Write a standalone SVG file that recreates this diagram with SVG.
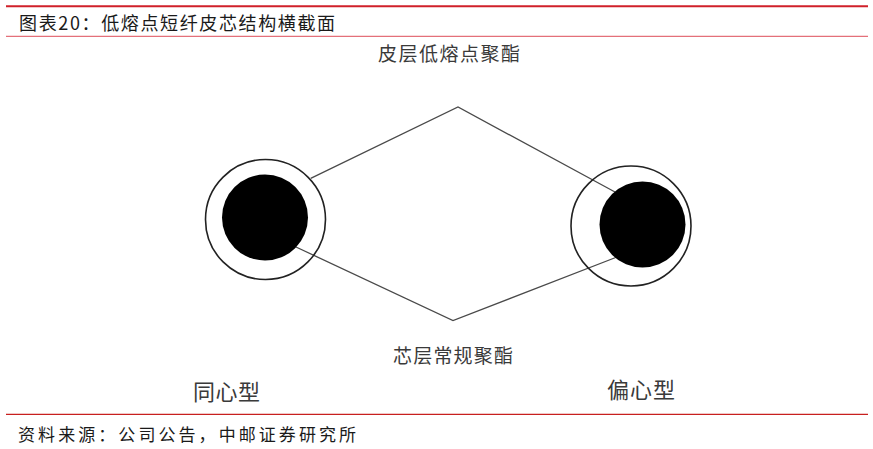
<svg xmlns="http://www.w3.org/2000/svg" width="873" height="449" viewBox="0 0 873 449">
<style>
.rule-top{stroke:#d0202a;stroke-width:2}
.rule-sub{stroke:#e4707a;stroke-width:1.3}
.rule-bot{stroke:#c8201f;stroke-width:1.3}
.title{font-family:"Noto Sans CJK SC","Liberation Sans",sans-serif;font-size:18px;fill:#1a1a1a}
.foot{font-family:"Noto Sans CJK SC","Liberation Sans",sans-serif;font-size:17px;fill:#1a1a1a}
.lbl{font-family:"Liberation Serif","Noto Sans CJK SC",serif;fill:#3a3a3a}
.ring{fill:none;stroke:#222;stroke-width:1.6}
.core{fill:#000}
.conn{fill:none;stroke:#4a4a4a;stroke-width:1.3}
</style>
<rect width="873" height="449" fill="#fff"/>
<line class="rule-top" x1="6" y1="6.3" x2="868" y2="6.3"/>
<line class="rule-sub" x1="6" y1="36.3" x2="868" y2="36.3"/>
<text class="title" x="19" y="29.5" textLength="316" lengthAdjust="spacing">图表20：低熔点短纤皮芯结构横截面</text>
<g id="connectors">
<polyline class="conn" points="310.7,178.3 458,107 615,192"/>
<polyline class="conn" points="296,247 453,320.5 617,257"/>
</g>
<g id="fiber-concentric">
<circle class="ring" cx="265.5" cy="219.5" r="60"/>
<circle class="core" cx="265" cy="217.5" r="43"/>
</g>
<g id="fiber-eccentric">
<circle class="ring" cx="631" cy="226" r="60"/>
<circle class="core" cx="642.5" cy="224.5" r="43"/>
</g>
<g id="label-sheath">
<text class="lbl" x="378" y="61" font-size="19" textLength="142" lengthAdjust="spacing">皮层低熔点聚酯</text>
</g>
<g id="label-core">
<text class="lbl" x="393" y="363" font-size="19" textLength="120" lengthAdjust="spacing">芯层常规聚酯</text>
</g>
<g id="label-concentric">
<text class="lbl" x="193" y="400" font-size="22" textLength="67" lengthAdjust="spacing">同心型</text>
</g>
<g id="label-eccentric">
<text class="lbl" x="607" y="398" font-size="22" textLength="68" lengthAdjust="spacing">偏心型</text>
</g>
<line class="rule-bot" x1="6" y1="414.3" x2="868" y2="414.3"/>
<text class="foot" x="18" y="440.5" textLength="338" lengthAdjust="spacing">资料来源：公司公告，中邮证券研究所</text>
</svg>
